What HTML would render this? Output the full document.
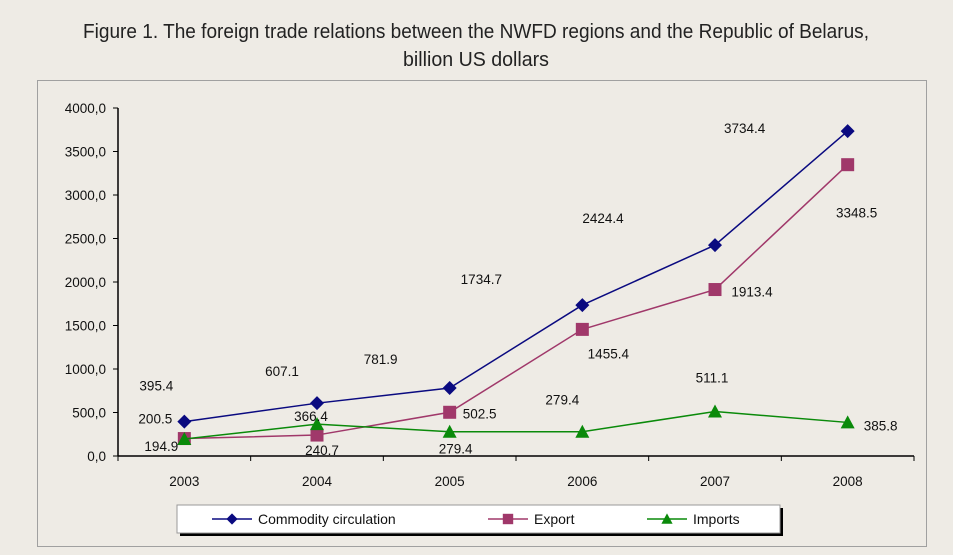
<!DOCTYPE html>
<html><head><meta charset="utf-8">
<style>
html,body{margin:0;padding:0;background:#eeebe5;}
svg{display:block;font-family:"Liberation Sans",sans-serif;}
</style></head>
<body>
<svg id="chart" width="953" height="555" viewBox="0 0 953 555">
  <rect x="0" y="0" width="953" height="555" fill="#eeebe5"/>
  <text x="476" y="38" text-anchor="middle" font-size="20" textLength="786" lengthAdjust="spacingAndGlyphs" fill="#222">Figure 1. The foreign trade relations between the NWFD regions and the Republic of Belarus,</text>
  <text x="476" y="66" text-anchor="middle" font-size="20" textLength="146" lengthAdjust="spacingAndGlyphs" fill="#222">billion US dollars</text>
  <rect x="37.5" y="80.5" width="889" height="466" fill="none" stroke="#a0a0a0" stroke-width="1"/>
  <g id="axes"></g>
  <g id="series"></g>
  <g id="legend">
    <rect x="180" y="508" width="603" height="28" fill="#000"/>
    <rect x="177" y="505" width="603" height="28" fill="#fff" stroke="#999"/>
  </g>
</svg>
<script>
const categories = ["2003","2004","2005","2006","2007","2008"];
const commodity = [395.4, 607.1, 781.9, 1734.7, 2424.4, 3734.4];
const exportVals = [200.5, 240.7, 502.5, 1455.4, 1913.4, 3348.5];
const imports = [194.9, 366.4, 279.4, 279.4, 511.1, 385.8];
const yTicks = [0,500,1000,1500,2000,2500,3000,3500,4000];
const yTickLabels = ["0,0","500,0","1000,0","1500,0","2000,0","2500,0","3000,0","3500,0","4000,0"];
const commodityLabels = ["395.4","607.1","781.9","1734.7","2424.4","3734.4"];
const exportLabels = ["200.5","240.7","502.5","1455.4","1913.4","3348.5"];
const importLabels = ["194.9","366.4","279.4","279.4","511.1","385.8"];

const NS = "http://www.w3.org/2000/svg";
const X0 = 118, X1 = 914, Y0 = 456, Y1 = 108, YMAX = 4000;
const step = (X1 - X0) / categories.length;
function xPos(i){ return X0 + step * (i + 0.5); }
function yPos(v){ return Y0 - (v / YMAX) * (Y0 - Y1); }
function mk(tag, attrs, parent){
  const e = document.createElementNS(NS, tag);
  for (const k in attrs) e.setAttribute(k, attrs[k]);
  parent.appendChild(e);
  return e;
}
const axes = document.getElementById("axes");
const series = document.getElementById("series");

let ya = mk("line", {x1:X0, y1:Y1, x2:X0, y2:Y0, stroke:"#000", "stroke-width":1.5}, axes);


yTicks.forEach((t, i) => {
  const y = yPos(t);
  const tk = mk("line", {x1:X0-5, y1:y, x2:X0, y2:y, stroke:"#000"}, axes);
  
  
  const tx = mk("text", {x:X0-12, y:y+5, "text-anchor":"end", "font-size":13.5, fill:"#111"}, axes);
  tx.textContent = yTickLabels[i];
  
  
});
let xa = mk("line", {x1:X0, y1:Y0, x2:X1, y2:Y0, stroke:"#000", "stroke-width":1.5}, axes);


for (let i = 0; i <= categories.length; i++){
  const x = X0 + step * i;
  const tk = mk("line", {x1:x, y1:Y0, x2:x, y2:Y0+5, stroke:"#000"}, axes);
  
  
}
categories.forEach((c, i) => {
  const tx = mk("text", {x:xPos(i), y:Y0+30, "text-anchor":"middle", "font-size":13.5, fill:"#111"}, axes);
  tx.textContent = c;
  
  
});

function marker(type, x, y, color, parent){
  let m;
  if (type === "diamond") m = mk("polygon", {points:`${x},${y-7} ${x+7},${y} ${x},${y+7} ${x-7},${y}`, fill:color}, parent);
  else if (type === "square") m = mk("rect", {x:x-6.5, y:y-6.5, width:13, height:13, fill:color}, parent);
  else m = mk("polygon", {points:`${x},${y-7} ${x+7},${y+6} ${x-7},${y+6}`, fill:color}, parent);
  return m;
}
function drawSeries(vals, labels, color, type, name, lblOff){
  const g = mk("g", {}, series);
  
  
  const pts = vals.map((v, i) => `${xPos(i)},${yPos(v)}`).join(" ");
  const pl = mk("polyline", {points:pts, fill:"none", stroke:color, "stroke-width":1.5}, g);
  
  
  vals.forEach((v, i) => {
    const m = marker(type, xPos(i), yPos(v), color, g);
    
    
    const t = mk("text", {x:xPos(i)+lblOff[i][0], y:yPos(v)+lblOff[i][1]+5, "text-anchor":"middle", "font-size":13.5, fill:"#111"}, g);
    t.textContent = labels[i];
    
    
  });
}
// label offsets relative to each point (layout, not data)
const cOff = [[-28,-36],[-35,-32],[-69,-29],[-101,-26],[-112,-27],[-103,-3]];
const eOff = [[-29,-20],[5,15],[30,1],[26,24],[37,2],[9,48]];
const iOff = [[-23,7],[-6,-8],[6,17],[-20,-32],[-3,-34],[33,3]];
drawSeries(exportVals, exportLabels, "#a0386a", "square", "export", eOff);
drawSeries(imports, importLabels, "#0a8a0a", "triangle", "imports", iOff);
drawSeries(commodity, commodityLabels, "#0a0a80", "diamond", "commodity", cOff);

const lg = document.getElementById("legend");
const items = [["Commodity circulation","#0a0a80","diamond",212],["Export","#a0386a","square",488],["Imports","#0a8a0a","triangle",647]];
items.forEach(it => {
  const g = mk("g", {}, lg);
  
  
  mk("line", {x1:it[3], y1:519, x2:it[3]+40, y2:519, stroke:it[1], "stroke-width":1.5}, g);
  marker(it[2], it[3]+20, 519, it[1], g).setAttribute('transform', `translate(${it[3]+20},519) scale(0.8) translate(${-(it[3]+20)},-519)`);
  const t = mk("text", {x:it[3]+46, y:524, "font-size":14, fill:"#111"}, g);
  t.textContent = it[0];
});
</script>
</body></html>
